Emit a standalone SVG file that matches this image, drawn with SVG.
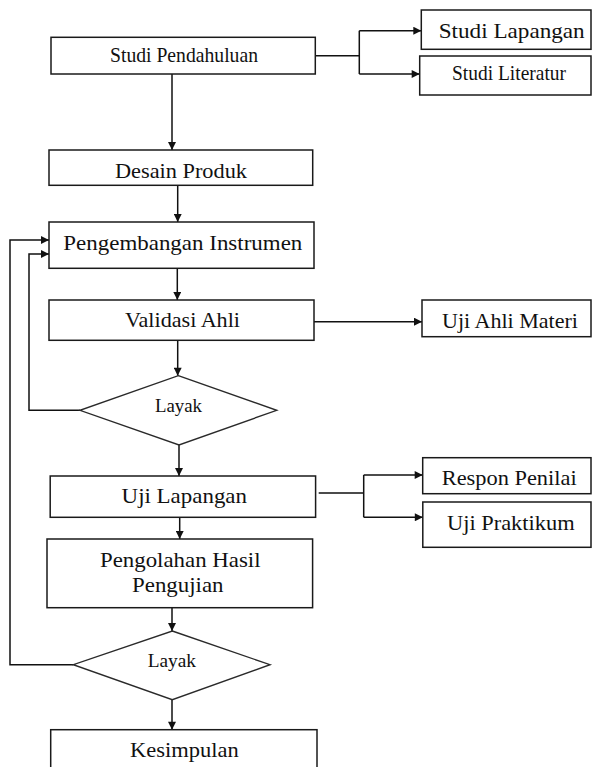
<svg xmlns="http://www.w3.org/2000/svg" width="592" height="767" viewBox="0 0 592 767">
<style>
.box{fill:#fff;stroke:#1a1a1a;stroke-width:1.5}
.dia{fill:#fff;stroke:#2a2a2a;stroke-width:1.4}
.ln{fill:none;stroke:#111;stroke-width:1.5}
.arr{marker-end:url(#ah)}
text{font-family:"Liberation Serif","Times New Roman",serif;fill:#111;font-size:22px}
.sm{font-size:18px}
</style>
<defs>
<marker id="ah" viewBox="0 0 10 10" refX="10" refY="5" markerWidth="9" markerHeight="8" markerUnits="userSpaceOnUse" orient="auto">
<path d="M0,0 L10,5 L0,10 z" fill="#111"/>
</marker>
</defs>
<rect width="592" height="767" fill="#fff"/>
<g id="connectors">
<path class="ln arr" d="M172,74 V150"/>
<path class="ln arr" d="M177.7,185.3 V222"/>
<path class="ln arr" d="M177.3,268.3 V300"/>
<path class="ln arr" d="M177.7,340.3 V375.7"/>
<path class="ln arr" d="M179,445 V476"/>
<path class="ln arr" d="M179.7,517.3 V539"/>
<path class="ln arr" d="M172,607.7 V631"/>
<path class="ln arr" d="M172,699.7 V729.7"/>
<path class="ln" d="M315,55.7 H359.3 M359.3,30.7 V74"/>
<path class="ln arr" d="M359.3,30.7 H421.3"/>
<path class="ln arr" d="M359.3,74 H419.7"/>
<path class="ln arr" d="M314,321.7 H422"/>
<path class="ln" d="M318.7,493 H363.7 M363.7,475 V517.3"/>
<path class="ln arr" d="M363.7,475 H422.7"/>
<path class="ln arr" d="M363.7,517.3 H422.8"/>
<path class="ln arr" d="M80,410.3 H29 V254 H49"/>
<path class="ln arr" d="M73.3,664.7 H10 V240 H49"/>
</g>
<g id="studi-pendahuluan"><rect class="box" x="51" y="37.3" width="264.3" height="36.7"/><text x="110" y="62.3" textLength="148" lengthAdjust="spacingAndGlyphs">Studi Pendahuluan</text></g>
<g id="studi-lapangan"><rect class="box" x="421.3" y="10" width="169.7" height="39.3"/><text x="438.7" y="38.3" textLength="146" lengthAdjust="spacingAndGlyphs">Studi Lapangan</text></g>
<g id="studi-literatur"><rect class="box" x="419.7" y="56" width="171.3" height="39"/><text x="452" y="80" textLength="114" lengthAdjust="spacingAndGlyphs">Studi Literatur</text></g>
<g id="desain-produk"><rect class="box" x="49" y="150" width="263.7" height="35.3"/><text x="115" y="178.3" textLength="132" lengthAdjust="spacingAndGlyphs">Desain Produk</text></g>
<g id="pengembangan-instrumen"><rect class="box" x="49" y="222" width="265" height="46.3"/><text x="63.3" y="250" textLength="239" lengthAdjust="spacingAndGlyphs">Pengembangan Instrumen</text></g>
<g id="validasi-ahli"><rect class="box" x="49" y="300" width="265" height="40.3"/><text x="125" y="326.7" textLength="115" lengthAdjust="spacingAndGlyphs">Validasi Ahli</text></g>
<g id="uji-ahli-materi"><rect class="box" x="422" y="300" width="169" height="36.7"/><text x="442" y="327.7" textLength="136" lengthAdjust="spacingAndGlyphs">Uji Ahli Materi</text></g>
<g id="layak-1"><polygon class="dia" points="178.3,375.7 276.7,410.3 179,445 80,410.3"/><text class="sm" x="155" y="411.7" textLength="47" lengthAdjust="spacingAndGlyphs">Layak</text></g>
<g id="uji-lapangan"><rect class="box" x="50.2" y="476" width="265.4" height="41.3"/><text x="121.6" y="503.3" textLength="125.4" lengthAdjust="spacingAndGlyphs">Uji Lapangan</text></g>
<g id="respon-penilai"><rect class="box" x="422.7" y="457.7" width="168.3" height="36"/><text x="441.7" y="485" textLength="135" lengthAdjust="spacingAndGlyphs">Respon Penilai</text></g>
<g id="uji-praktikum"><rect class="box" x="422.8" y="502" width="168.2" height="45.3"/><text x="447" y="530" textLength="127.6" lengthAdjust="spacingAndGlyphs">Uji Praktikum</text></g>
<g id="pengolahan-hasil"><rect class="box" x="47" y="539" width="265.6" height="68.7"/><text x="100" y="567" textLength="160.5" lengthAdjust="spacingAndGlyphs">Pengolahan Hasil</text><text x="132" y="592" textLength="91.5" lengthAdjust="spacingAndGlyphs">Pengujian</text></g>
<g id="layak-2"><polygon class="dia" points="172.3,631 270,664.7 172.3,699.7 73.3,664.7"/><text class="sm" x="147.7" y="666.5" textLength="48.3" lengthAdjust="spacingAndGlyphs">Layak</text></g>
<g id="kesimpulan"><rect class="box" x="50.7" y="729.7" width="266.3" height="50"/><text x="130" y="757" textLength="108.7" lengthAdjust="spacingAndGlyphs">Kesimpulan</text></g>
</svg>
